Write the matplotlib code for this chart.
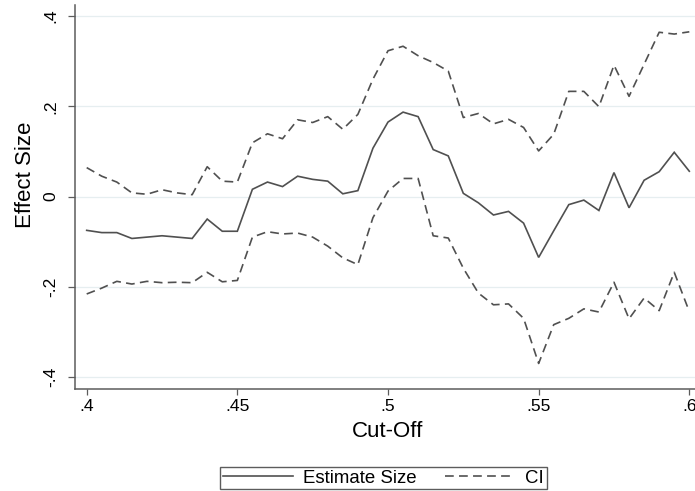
import numpy as np
import matplotlib
matplotlib.use('Agg')
import matplotlib.pyplot as plt
from matplotlib.lines import Line2D

# Cut-off values (x) and the estimated effect with its confidence band
cutoff = [0.400, 0.405, 0.410, 0.415, 0.420, 0.425, 0.430, 0.435, 0.440, 0.445,
          0.450, 0.455, 0.460, 0.465, 0.470, 0.475, 0.480, 0.485, 0.490, 0.495,
          0.500, 0.505, 0.510, 0.515, 0.520, 0.525, 0.530, 0.535, 0.540, 0.545,
          0.550, 0.555, 0.560, 0.565, 0.570, 0.575, 0.580, 0.585, 0.590, 0.595,
          0.600]
estimate = [-0.075, -0.080, -0.080, -0.093, -0.090, -0.087, -0.090, -0.093, -0.050, -0.077,
            -0.077, 0.016, 0.032, 0.022, 0.045, 0.038, 0.034, 0.006, 0.013, 0.107,
            0.165, 0.187, 0.177, 0.104, 0.090, 0.007, -0.014, -0.041, -0.033, -0.059,
            -0.135, -0.076, -0.018, -0.008, -0.031, 0.053, -0.025, 0.036, 0.055, 0.098,
            0.056]
ci_upper = [0.064, 0.045, 0.032, 0.008, 0.005, 0.015, 0.008, 0.004, 0.066, 0.034,
            0.032, 0.119, 0.139, 0.128, 0.170, 0.164, 0.177, 0.149, 0.182, 0.260,
            0.323, 0.333, 0.312, 0.297, 0.278, 0.175, 0.184, 0.161, 0.171, 0.153,
            0.101, 0.138, 0.233, 0.233, 0.199, 0.291, 0.222, 0.293, 0.364, 0.360,
            0.365]
ci_lower = [-0.216, -0.203, -0.188, -0.194, -0.188, -0.191, -0.190, -0.191, -0.168, -0.189,
            -0.186, -0.090, -0.078, -0.083, -0.081, -0.090, -0.110, -0.136, -0.151, -0.047,
            0.012, 0.040, 0.040, -0.087, -0.092, -0.159, -0.214, -0.240, -0.238, -0.270,
            -0.370, -0.284, -0.270, -0.249, -0.256, -0.190, -0.271, -0.225, -0.253, -0.168,
            -0.255]

x_ticks = [0.40, 0.45, 0.50, 0.55, 0.60]
x_tick_labels = ['.4', '.45', '.5', '.55', '.6']
y_ticks = [-0.4, -0.2, 0.0, 0.2, 0.4]
y_tick_labels = ['-.4', '-.2', '0', '.2', '.4']

plt.rcParams['font.family'] = ['Liberation Sans', 'DejaVu Sans']
plt.rcParams['lines.scale_dashes'] = False

line_color = '#505050'
axis_color = '#5c5c5c'
grid_color = '#e6eef0'
dash = (0, (6.3, 3.8))

fig = plt.figure(figsize=(6.95, 4.91), dpi=100)
ax = fig.add_axes([75 / 695, 102 / 491, 620 / 695, 384 / 491])

ax.plot(cutoff, estimate, color=line_color, lw=1.2, solid_joinstyle='miter')
ax.plot(cutoff, ci_upper, color=line_color, lw=1.2, ls=dash)
ax.plot(cutoff, ci_lower, color=line_color, lw=1.2, ls=dash)

ax.set_xlim(0.39612, 0.60189)
ax.set_ylim(-0.4266, 0.4244)

# Stata-like axes: only left/bottom lines, horizontal grid only
for side in ['top', 'right']:
    ax.spines[side].set_visible(False)
for side in ['left', 'bottom']:
    ax.spines[side].set_color(axis_color)
    ax.spines[side].set_linewidth(1.1)

ax.set_xticks(x_ticks)
ax.set_xticklabels(x_tick_labels)
ax.set_yticks(y_ticks)
ax.set_yticklabels(y_tick_labels, rotation=90, va='center')
ax.tick_params(axis='x', length=4.5, width=0.9, color=axis_color, labelsize=12.6, pad=3)
ax.tick_params(axis='y', length=5, width=0.9, color=axis_color, labelsize=12.6, pad=7)

ax.yaxis.grid(True, color=grid_color, lw=0.9)
ax.set_axisbelow(True)

# axis titles placed in axes fractions (axes is 620 x 384 px)
ax.set_xlabel('Cut-Off', fontsize=16, va='center')
ax.xaxis.set_label_coords(0.504, -0.111)
ax.set_ylabel('Effect Size', fontsize=16, va='center')
ax.yaxis.set_label_coords(-0.080, 0.557)

handles = [Line2D([], [], color=line_color, lw=1.2),
           Line2D([], [], color=line_color, lw=1.2, ls=dash)]
leg = fig.legend(handles, ['Estimate Size', 'CI'], loc='center',
                 bbox_to_anchor=(383.5 / 695, 13 / 491), ncol=2, fontsize=13.4,
                 frameon=True, fancybox=False, handlelength=3.76, handletextpad=0.55,
                 columnspacing=1.5, borderpad=0.15, borderaxespad=0)
leg.get_frame().set_edgecolor('#333333')
leg.get_frame().set_linewidth(1.0)

plt.savefig('out.png', dpi=100)
